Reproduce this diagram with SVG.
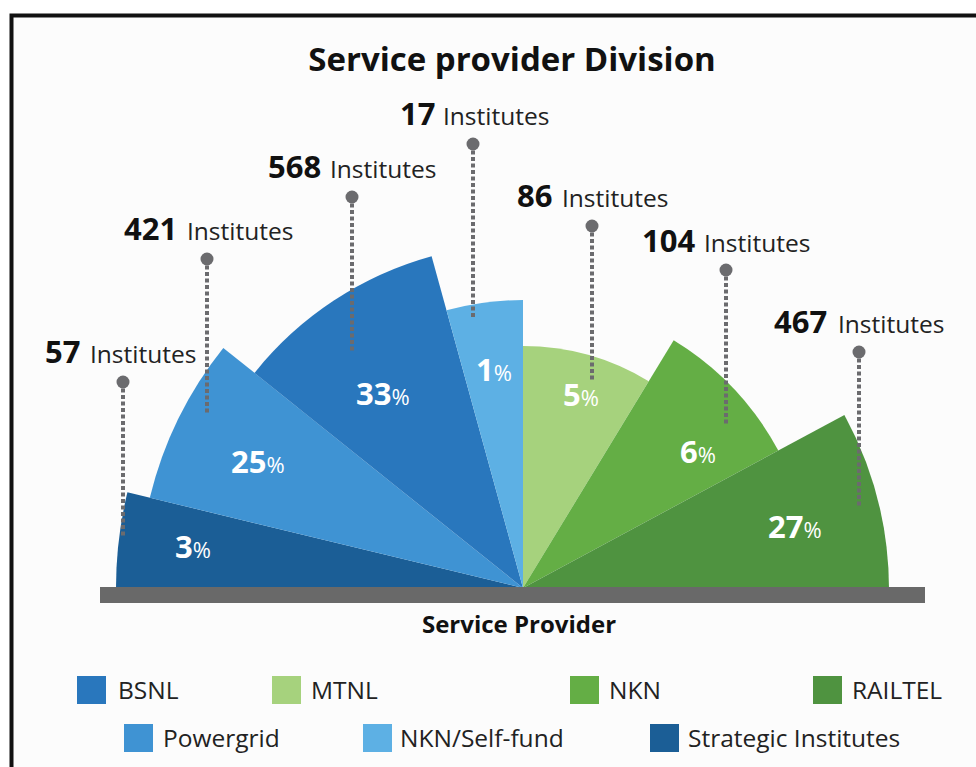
<svg xmlns="http://www.w3.org/2000/svg" width="976" height="767" viewBox="0 0 976 767">
<style>
text{font-family:"Open Sans","Liberation Sans",sans-serif;}
.title{font-size:33px;font-weight:700;fill:#111;}
.axis{font-size:24px;font-weight:700;fill:#111;}
.num{font-size:31px;font-weight:700;fill:#111;}
.inst{font-size:24.5px;font-weight:400;fill:#222;}
.pn{font-size:31px;font-weight:700;fill:#fff;}
.pp{font-size:22px;font-weight:400;fill:#fff;}
.leg{font-size:24.5px;font-weight:400;fill:#222;}
.lead{stroke:#6b6b6e;stroke-width:4;stroke-dasharray:4 2.5;fill:none;}
.dot{fill:#6b6b6e;}
.c-str{fill:#1b5e96;}
.c-pow{fill:#3f93d3;}
.c-bsnl{fill:#2977bd;}
.c-self{fill:#5db0e4;}
.c-mtnl{fill:#a6d27d;}
.c-nkn{fill:#64ae45;}
.c-rail{fill:#4f9340;}
</style>
<rect x="0" y="0" width="976" height="767" fill="#ffffff"/>
<rect x="11.5" y="15.5" width="970" height="760" fill="#fcfcfc"/>
<path d="M11.5 767 V15.5 H976" fill="none" stroke="#111" stroke-width="4"/>
<text class="title" x="512" y="71" text-anchor="middle">Service provider Division</text>

<g id="wedge-strategic"><path class="c-str" d="M523 588 L116 588 A407 407 0 0 1 127.4 492.3 Z"/></g>
<g id="wedge-powergrid"><path class="c-pow" d="M523 588 L149.8 497.7 A384 384 0 0 1 223.3 347.9 Z"/></g>
<g id="wedge-bsnl"><path class="c-bsnl" d="M523 588 L254.5 372.9 A344 344 0 0 1 431.6 256.3 Z"/></g>
<g id="wedge-selffund"><path class="c-self" d="M523 588 L446.5 310.3 A288 288 0 0 1 523 300 Z"/></g>
<g id="wedge-mtnl"><path class="c-mtnl" d="M523 588 L523 346 A242 242 0 0 1 648.7 381.2 Z"/></g>
<g id="wedge-nkn"><path class="c-nkn" d="M523 588 L673.7 340.2 A290 290 0 0 1 778.3 450.5 Z"/></g>
<g id="wedge-railtel"><path class="c-rail" d="M523 588 L844.4 414.9 A366 366 0 0 1 889 588 Z"/></g>

<g id="connectors">
<line class="lead" x1="123" y1="382" x2="123" y2="538"/>
<line class="lead" x1="207" y1="259" x2="207" y2="413"/>
<line class="lead" x1="352" y1="197" x2="352" y2="352"/>
<line class="lead" x1="473" y1="144" x2="473" y2="317"/>
<line class="lead" x1="592" y1="226" x2="592" y2="382"/>
<line class="lead" x1="726" y1="270" x2="726" y2="426"/>
<line class="lead" x1="859" y1="352" x2="859" y2="508"/>
</g>

<rect x="100" y="587" width="825" height="16" fill="#696969"/>

<g id="label-strategic">
<circle class="dot" cx="123" cy="382" r="6.5"/>
<text x="45" y="363"><tspan class="num">57</tspan><tspan class="inst" x="90">Institutes</tspan></text>
<text x="175" y="558"><tspan class="pn">3</tspan><tspan class="pp">%</tspan></text>
</g>
<g id="label-powergrid">
<circle class="dot" cx="207" cy="259" r="6.5"/>
<text x="124" y="240"><tspan class="num">421</tspan><tspan class="inst" x="187">Institutes</tspan></text>
<text x="231" y="473"><tspan class="pn">25</tspan><tspan class="pp">%</tspan></text>
</g>
<g id="label-bsnl">
<circle class="dot" cx="352" cy="197" r="6.5"/>
<text x="268" y="178"><tspan class="num">568</tspan><tspan class="inst" x="330">Institutes</tspan></text>
<text x="356" y="405"><tspan class="pn">33</tspan><tspan class="pp">%</tspan></text>
</g>
<g id="label-selffund">
<circle class="dot" cx="473" cy="144" r="6.5"/>
<text x="400" y="125"><tspan class="num">17</tspan><tspan class="inst" x="443">Institutes</tspan></text>
<text x="476" y="381"><tspan class="pn">1</tspan><tspan class="pp">%</tspan></text>
</g>
<g id="label-mtnl">
<circle class="dot" cx="592" cy="226" r="6.5"/>
<text x="517" y="207"><tspan class="num">86</tspan><tspan class="inst" x="562">Institutes</tspan></text>
<text x="563" y="406"><tspan class="pn">5</tspan><tspan class="pp">%</tspan></text>
</g>
<g id="label-nkn">
<circle class="dot" cx="726" cy="270" r="6.5"/>
<text x="642" y="252"><tspan class="num">104</tspan><tspan class="inst" x="704">Institutes</tspan></text>
<text x="680" y="463"><tspan class="pn">6</tspan><tspan class="pp">%</tspan></text>
</g>
<g id="label-railtel">
<circle class="dot" cx="859" cy="352" r="6.5"/>
<text x="774" y="333"><tspan class="num">467</tspan><tspan class="inst" x="838">Institutes</tspan></text>
<text x="768" y="538"><tspan class="pn">27</tspan><tspan class="pp">%</tspan></text>
</g>

<text class="axis" x="519" y="633" text-anchor="middle">Service Provider</text>

<g id="legend-bsnl"><rect class="c-bsnl" x="77" y="676" width="29" height="28"/><text class="leg" x="118" y="699">BSNL</text></g>
<g id="legend-mtnl"><rect class="c-mtnl" x="272" y="676" width="29" height="28"/><text class="leg" x="311" y="699">MTNL</text></g>
<g id="legend-nkn"><rect class="c-nkn" x="570" y="676" width="29" height="28"/><text class="leg" x="609" y="699">NKN</text></g>
<g id="legend-railtel"><rect class="c-rail" x="813" y="676" width="29" height="28"/><text class="leg" x="852" y="699">RAILTEL</text></g>
<g id="legend-powergrid"><rect class="c-pow" x="124" y="724" width="29" height="28"/><text class="leg" x="163" y="747">Powergrid</text></g>
<g id="legend-selffund"><rect class="c-self" x="363" y="724" width="29" height="28"/><text class="leg" x="400" y="747">NKN/Self-fund</text></g>
<g id="legend-strategic"><rect class="c-str" x="650" y="724" width="29" height="28"/><text class="leg" x="688" y="747">Strategic Institutes</text></g>
</svg>
